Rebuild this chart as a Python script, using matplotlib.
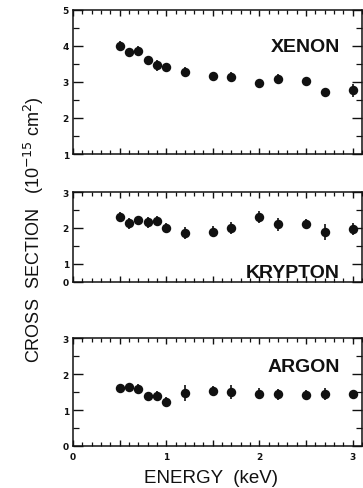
import matplotlib
matplotlib.use("Agg")
import matplotlib.pyplot as plt
from matplotlib.ticker import MultipleLocator, FuncFormatter, FixedLocator

# Energies (keV) and measured cross sections (10^-15 cm^2)
energy = [0.5, 0.6, 0.7, 0.8, 0.9, 1.0, 1.2, 1.5, 1.7, 2.0, 2.2, 2.5, 2.7, 3.0]

xenon = [4.00, 3.82, 3.85, 3.60, 3.46, 3.40, 3.28, 3.17, 3.14, 2.96, 3.08, 3.02, 2.72, 2.76]
xenon_err = [0.12, 0.10, 0.15, 0.10, 0.15, 0.10, 0.12, 0.10, 0.12, 0.13, 0.13, 0.12, 0.12, 0.17]

krypton = [2.30, 2.13, 2.21, 2.16, 2.20, 2.00, 1.86, 1.90, 2.00, 2.30, 2.10, 2.12, 1.90, 1.97]
krypton_err = [0.14, 0.15, 0.13, 0.15, 0.12, 0.14, 0.17, 0.15, 0.17, 0.17, 0.17, 0.12, 0.22, 0.17]

argon = [1.60, 1.65, 1.58, 1.38, 1.40, 1.22, 1.48, 1.54, 1.50, 1.45, 1.44, 1.43, 1.44, 1.45]
argon_err = [0.10, 0.10, 0.13, 0.13, 0.12, 0.14, 0.22, 0.14, 0.20, 0.15, 0.15, 0.12, 0.17, 0.10]

gases = ["XENON", "KRYPTON", "ARGON"]
x_ticklabels = ["0", "1", "2", "3"]

ink = "#111111"
plt.rcParams["font.family"] = ["Liberation Sans", "DejaVu Sans"]

fig = plt.figure(figsize=(3.63, 4.89), dpi=100)
fig.patch.set_facecolor("white")

left, width = 0.2011, 0.796
ax_xe = fig.add_axes([left, 0.683, width, 0.2955])
ax_kr = fig.add_axes([left, 0.4213, width, 0.184])
ax_ar = fig.add_axes([left, 0.0859, width, 0.2208])

panels = [
    (ax_xe, xenon, xenon_err, (1, 5), [1, 2, 3, 4, 5], ["1", "2", "3", "4", "5"], 0.747),
    (ax_kr, krypton, krypton_err, (0.5, 3), [0.5, 1, 2, 3], ["0", "1", "2", "3"], 0.10),
    (ax_ar, argon, argon_err, (0, 3), [0, 1, 2, 3], ["0", "1", "2", "3"], 0.74),
]

for (ax, vals, errs, ylim, yt, ytl, label_y), name in zip(panels, gases):
    ax.errorbar(energy, vals, yerr=errs, fmt="o", color=ink, ms=6.8,
                elinewidth=1.2, capsize=1.8, capthick=1.0, mew=0)
    ax.set_xlim(0, 3.1)
    ax.set_ylim(*ylim)
    for s in ax.spines.values():
        s.set_linewidth(1.1)
        s.set_color(ink)

    ax.xaxis.set_major_locator(MultipleLocator(0.5))
    ax.xaxis.set_minor_locator(MultipleLocator(0.1))
    ax.yaxis.set_major_locator(FixedLocator(yt))
    ax.set_yticklabels(ytl)
    minor_y = [v + 0.5 for v in range(int(ylim[0]), int(ylim[1]))
               if ylim[0] < v + 0.5 < ylim[1]]
    ax.yaxis.set_minor_locator(FixedLocator(minor_y))

    ax.tick_params(axis="x", which="major", direction="in", length=4.5,
                   width=1.0, top=True, bottom=True, colors=ink)
    ax.tick_params(axis="x", which="minor", direction="in", length=2.6,
                   width=0.9, top=True, bottom=True, colors=ink)
    ax.tick_params(axis="y", which="major", direction="in", length=7,
                   width=1.0, left=True, right=True, colors=ink, pad=3)
    ax.tick_params(axis="y", which="minor", direction="in", length=4.3,
                   width=0.9, left=True, right=True, colors=ink)
    for lab in ax.get_yticklabels():
        lab.set_fontsize(6.5)
        lab.set_fontweight("bold")
        lab.set_family("DejaVu Sans")

    ax.text(0.924, label_y, name, transform=ax.transAxes, ha="right",
            va="center", fontsize=14, fontweight="bold", color=ink)

for ax in (ax_xe, ax_kr):
    ax.tick_params(axis="x", labelbottom=False)

ax_ar.xaxis.set_major_formatter(FuncFormatter(
    lambda v, p: x_ticklabels[int(round(v))] if abs(v - round(v)) < 1e-6
    and 0 <= round(v) < len(x_ticklabels) else ""))
for lab in ax_ar.get_xticklabels():
    lab.set_fontsize(6.5)
    lab.set_fontweight("bold")
    lab.set_family("DejaVu Sans")
ax_ar.tick_params(axis="x", which="major", pad=4)

fig.text(0.5815, 0.022, "ENERGY  (keV)", ha="center", va="center",
         fontsize=13.5, color=ink)
fig.text(0.093, 0.53, r"CROSS  SECTION   (10$^{-15}$ cm$^{2}$)",
         rotation=90, ha="center", va="center", fontsize=13, color=ink)

fig.savefig("out.png", dpi=100, facecolor="white")
